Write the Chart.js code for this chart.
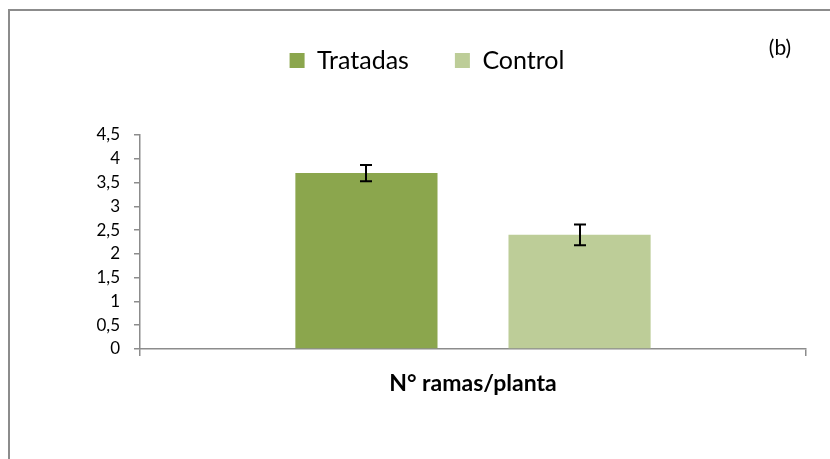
<!DOCTYPE html>
<html>
<head>
<meta charset="utf-8">
<script src="https://cdn.jsdelivr.net/npm/chart.js@4"></script>
<style>
    html, body { margin: 0; padding: 0; background: #fff; }
    #frame {
        position: absolute;
        left: 8px;
        top: 9px;
        width: 830px;
        height: 459px;
        border-top: 2px solid #8c8c8c;
        border-left: 2px solid #8c8c8c;
    }
    #wrap { position: absolute; left: 0; top: 0; width: 830px; height: 459px; }
</style>
</head>
<body>
<div id="frame"></div>
<div id="wrap"><canvas id="chart" width="830" height="459"></canvas></div>
<script>
// Branches per plant, treated vs control (mean ± error)
const categories = ['N° ramas/planta'];
const seriesNames = ['Tratadas', 'Control'];
const means = [[3.7], [2.4]];
const errors = [[0.17], [0.22]];
const yTicks = [0, 0.5, 1, 1.5, 2, 2.5, 3, 3.5, 4, 4.5];
const panelLabel = '(b)';

const colors = ['#8ba64d', '#bdcd98'];
const axisGray = '#8c8c8c';
const fontFamily = 'Lato, "Open Sans", sans-serif';

// Error bars drawn through the chart's own scales
const errorBars = {
    id: 'errorBars',
    afterDatasetsDraw(chart) {
        const ctx = chart.ctx;
        const y = chart.scales.y;
        ctx.save();
        ctx.strokeStyle = '#000';
        ctx.lineWidth = 2;
        chart.data.datasets.forEach((ds, di) => {
            const meta = chart.getDatasetMeta(di);
            meta.data.forEach((bar, i) => {
                const v = ds.data[i];
                const e = errors[di][i];
                const top = y.getPixelForValue(v + e);
                const bottom = y.getPixelForValue(v - e);
                const x = Math.round(bar.x);
                ctx.beginPath();
                ctx.moveTo(x, top);
                ctx.lineTo(x, bottom);
                ctx.moveTo(x - 6, top);
                ctx.lineTo(x + 6, top);
                ctx.moveTo(x - 6, bottom);
                ctx.lineTo(x + 6, bottom);
                ctx.stroke();
            });
        });
        ctx.restore();
    }
};

// Panel letter in the top-right corner
const panelTag = {
    id: 'panelTag',
    afterDraw(chart) {
        const ctx = chart.ctx;
        ctx.save();
        ctx.fillStyle = '#000';
        ctx.font = '21px ' + fontFamily;
        ctx.textAlign = 'center';
        ctx.textBaseline = 'middle';
        ctx.fillText(panelLabel, 780, 48);
        ctx.restore();
    }
};

// Extra room under the legend, and legend centred over the plot
const legendSpace = {
    id: 'legendSpace',
    beforeInit(chart) {
        const fit = chart.legend.fit;
        chart.legend.fit = function () {
            fit.bind(chart.legend)();
            this.height += 52;
        };
    },
    afterLayout(chart) {
        chart.legend.left += 24;
        chart.legend.right += 24;
    }
};

new Chart(document.getElementById('chart'), {
    type: 'bar',
    data: {
        labels: categories,
        datasets: seriesNames.map((name, i) => ({
            label: name,
            data: means[i],
            backgroundColor: colors[i],
            categoryPercentage: 0.64,
            barPercentage: 0.667
        }))
    },
    options: {
        responsive: false,
        animation: false,
        layout: { padding: { top: 2, right: 24, bottom: 0, left: 0 } },
        plugins: {
            legend: {
                position: 'top',
                labels: {
                    boxWidth: 15,
                    boxHeight: 15,
                    padding: 46,
                    color: '#000',
                    font: { family: fontFamily, size: 25 }
                }
            },
            tooltip: { enabled: false }
        },
        scales: {
            x: {
                afterFit(scale) { scale.height = 110; },
                grid: {
                    drawOnChartArea: false,
                    color: axisGray,
                    lineWidth: 1.5,
                    tickLength: 7
                },
                border: { color: axisGray, width: 1.5 },
                ticks: {
                    color: '#000',
                    padding: 14,
                    font: { family: fontFamily, size: 23, weight: 'bold' }
                }
            },
            y: {
                min: 0,
                max: 4.5,
                afterFit(scale) { scale.width = 140; },
                afterBuildTicks(scale) {
                    scale.ticks = yTicks.map(v => ({ value: v }));
                },
                grid: {
                    drawOnChartArea: false,
                    color: axisGray,
                    lineWidth: 1.5,
                    tickLength: 6
                },
                border: { color: axisGray, width: 1.5 },
                ticks: {
                    color: '#000',
                    padding: 14,
                    font: { family: fontFamily, size: 17 },
                    callback: v => String(v).replace('.', ',')
                }
            }
        }
    },
    plugins: [errorBars, panelTag, legendSpace]
});
</script>
</body>
</html>
